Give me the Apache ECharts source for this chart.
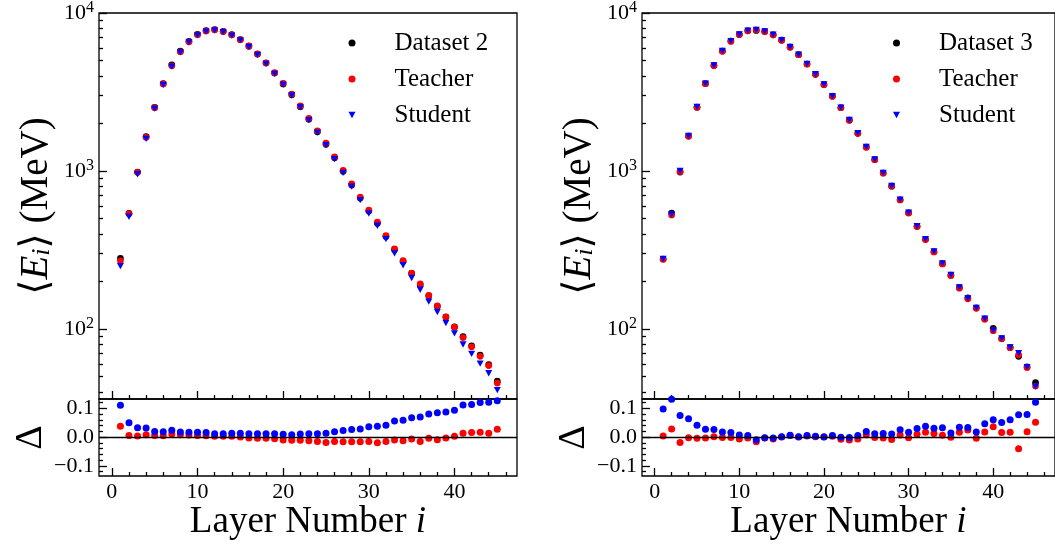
<!DOCTYPE html>
<html><head><meta charset="utf-8">
<script src="https://cdn.jsdelivr.net/npm/echarts@6/dist/echarts.min.js"></script>
<style>html,body{margin:0;padding:0;background:#fff}#c{width:1055px;height:548px}</style>
</head><body><div id="c"></div>
<script>
const layers = [1,2,3,4,5,6,7,8,9,10,11,12,13,14,15,16,17,18,19,20,21,22,23,24,25,26,27,28,29,30,31,32,33,34,35,36,37,38,39,40,41,42,43,44,45];

const dataset2 = [280,539,984,1648,2529,3575,4688,5736,6622,7328,7730,7850,7656,7295,6790,6166,5495,4823,4170,3556,3033,2551,2125,1770,1475,1211,994,816,673,558,467,385,318,268,225,190,162,139,119,103,89.4,78.2,68.2,59.4,46.7];
const teacher2 = [270,536,980,1633,2514,3557,4636,5684,6569,7284,7691,7826,7633,7273,6783,6184,5517,4842,4191,3592,3066,2579,2151,1795,1500,1228,1009,828,683,566,475,390,321,271,226,193,163,140,119.4,102.7,88.2,77.0,67.1,58.6,45.4];
const student2 = [250,513,953,1597,2481,3511,4580,5638,6516,7211,7614,7756,7564,7200,6702,6092,5429,4765,4120,3520,3006,2523,2100,1749,1456,1189,972,795,654,538,450,370,301,253,210,177,149,128,109,93.7,79.7,69.6,60.3,52.4,41.0];
const deltaTeacher2 = [0.038,0.006,0.004,0.009,0.006,0.005,0.011,0.009,0.008,0.006,0.005,0.003,0.003,0.003,0.001,-0.003,-0.004,-0.004,-0.005,-0.010,-0.011,-0.011,-0.012,-0.015,-0.018,-0.015,-0.016,-0.016,-0.016,-0.015,-0.019,-0.015,-0.010,-0.012,-0.006,-0.015,-0.004,-0.009,-0.003,0.003,0.014,0.016,0.017,0.014,0.028];
const deltaStudent2 = [0.111,0.050,0.033,0.032,0.020,0.019,0.024,0.018,0.017,0.017,0.016,0.012,0.012,0.014,0.014,0.012,0.012,0.012,0.012,0.010,0.009,0.011,0.012,0.012,0.014,0.019,0.023,0.027,0.029,0.036,0.038,0.042,0.056,0.059,0.068,0.070,0.081,0.085,0.088,0.094,0.112,0.114,0.121,0.122,0.127];

const dataset3 = [277,541,984,1663,2535,3573,4656,5741,6637,7305,7714,7760,7636,7280,6730,6085,5444,4755,4092,3524,2972,2512,2098,1730,1417,1180,971,801,657,543,446,369,308,259,219,183,157,136,116,101,86.9,76.3,67.1,57.5,45.7];
const teacher3 = [276,527,993,1660,2530,3570,4650,5730,6630,7300,7720,7820,7640,7280,6725,6080,5440,4750,4090,3520,2975,2515,2100,1732,1415,1178,970,803,655,542,445,368,307,258,218,181,155,135,115,97.5,86.5,76.0,68.5,57.0,43.5];
const student3 = [277,530,1002,1665,2540,3575,4660,5745,6640,7310,7725,7830,7650,7290,6740,6090,5450,4760,4095,3530,2980,2515,2102,1735,1420,1182,972,803,658,545,447,370,309,260,220,183,156,136,116,97.5,87,76.5,70.2,57.3,43.2];
const deltaTeacher3 = [0.004,0.029,-0.018,-0.002,-0.004,-0.003,0.002,-0.001,-0.001,-0.006,-0.003,-0.016,-0.003,-0.006,0.001,0.006,0.001,0.004,0.002,0.002,0.003,-0.007,-0.010,-0.006,0.009,-0.001,-0.003,-0.008,0.008,-0.002,0.010,0.017,0.013,0.007,0.000,0.017,0.025,-0.004,0.018,0.036,0.016,0.017,-0.040,0.019,0.052];
const deltaStudent3 = [0.098,0.132,0.076,0.064,0.042,0.028,0.027,0.018,0.016,0.008,0.006,-0.009,-0.002,-0.003,0.002,0.007,0.002,0.006,0.003,0.001,0.006,0.000,-0.001,0.006,0.020,0.012,0.013,0.011,0.026,0.017,0.030,0.038,0.031,0.033,0.015,0.035,0.034,0.018,0.047,0.061,0.051,0.061,0.078,0.079,0.122];

const xMajorTicks = [0,10,20,30,40];
const xMinorTicks = [2,4,6,8,12,14,16,18,22,24,26,28,32,34,36,38,42,44,46];
const yMajorTicks = [100,1000,10000];
const yMinorTicks = [40,50,60,70,80,90,200,300,400,500,600,700,800,900,2000,3000,4000,5000,6000,7000,8000,9000];
const dMajorTicks = [-0.1,0,0.1];
const dMinorTicks = [-0.12,-0.08,-0.06,-0.04,-0.02,0.02,0.04,0.06,0.08,0.12];

const FONT = '"Liberation Serif","DejaVu Serif",serif';
const TRI = 'path://M0,0L10,0L5,9Z';
const zip = (xs, ys) => xs.map((x, i) => [x, ys[i]]);

const panels = [
  {left: 99, width: 418, dataName: 'Dataset 2', data: dataset2, teacher: teacher2, student: student2, dT: deltaTeacher2, dS: deltaStudent2, legendLeft: 343.5},
  {left: 642, width: 417, dataName: 'Dataset 3', data: dataset3, teacher: teacher3, student: student3, dT: deltaTeacher3, dS: deltaStudent3, legendLeft: 888}
];

const grid = [], xAxis = [], yAxis = [], series = [], legend = [];
const tickStyle = {color: '#000', width: 1.3};
const noLine = {show: false, onZero: false};

function xAx(gi, ticks, len, labels, name) {
  return {
    type: 'value', gridIndex: gi, min: -1.5, max: 47.3, position: 'bottom',
    axisLine: noLine, splitLine: {show: false},
    axisTick: {show: true, inside: true, length: len, lineStyle: tickStyle, customValues: ticks},
    axisLabel: {show: labels, customValues: ticks, color: '#000', fontFamily: FONT, fontSize: 22, margin: 5},
    name: name || '', nameLocation: 'middle', nameGap: 24,
    nameTextStyle: {color: '#000', fontFamily: FONT, fontSize: 37,
      rich: {t: {fontFamily: FONT, fontSize: 37, color: '#000'}, i: {fontFamily: FONT, fontSize: 37, fontStyle: 'italic', color: '#000'}}}
  };
}

panels.forEach((p, k) => {
  const gMain = 2 * k, gRatio = 2 * k + 1;
  grid.push({left: p.left, top: 8, width: p.width, height: 391, show: true, borderColor: '#000', borderWidth: 1.3, backgroundColor: 'transparent'});
  grid.push({left: p.left, top: 399, width: p.width, height: 77, show: true, borderColor: '#000', borderWidth: 1.3, backgroundColor: 'transparent'});

  xAxis.push(xAx(gMain, xMajorTicks, 8, false));
  xAxis.push(xAx(gMain, xMinorTicks, 4, false));
  xAxis.push(xAx(gRatio, xMajorTicks, 8, true, '{t|Layer Number }{i|i}'));
  xAxis.push(xAx(gRatio, xMinorTicks, 4, false));

  yAxis.push({
    type: 'log', logBase: 10, gridIndex: gMain, min: 36, max: 10000, position: 'left',
    axisLine: noLine, splitLine: {show: false},
    axisTick: {show: true, inside: true, length: 8, lineStyle: tickStyle, customValues: yMajorTicks},
    axisLabel: {show: true, customValues: yMajorTicks, margin: 5,
      formatter: v => '{b|10}{s|' + Math.round(Math.log10(v)) + '}',
      rich: {b: {fontFamily: FONT, fontSize: 22, color: '#000', lineHeight: 26},
             s: {fontFamily: FONT, fontSize: 16, color: '#000', verticalAlign: 'top', lineHeight: 15}}},
    name: '⟨{e|E}{sub|i}⟩ (MeV)', nameLocation: 'middle', nameRotate: 90, nameGap: 44,
    nameTextStyle: {color: '#000', fontFamily: FONT, fontSize: 39, lineHeight: 36,
      rich: {e: {fontFamily: FONT, fontSize: 39, fontStyle: 'italic', color: '#000', lineHeight: 36},
             sub: {fontFamily: FONT, fontSize: 26, fontStyle: 'italic', color: '#000', verticalAlign: 'bottom', padding: [15, 0, 0, 0]}}}
  });
  yAxis.push({
    type: 'log', logBase: 10, gridIndex: gMain, min: 36, max: 10000, position: 'left',
    axisLine: noLine, splitLine: {show: false},
    axisTick: {show: true, inside: true, length: 4, lineStyle: tickStyle, customValues: yMinorTicks},
    axisLabel: {show: false}
  });
  yAxis.push({
    type: 'value', gridIndex: gRatio, min: -0.135, max: 0.133, position: 'left',
    axisLine: noLine, splitLine: {show: false},
    axisTick: {show: true, inside: true, length: 8, lineStyle: tickStyle, customValues: dMajorTicks},
    axisLabel: {show: true, customValues: dMajorTicks, color: '#000', fontFamily: FONT, fontSize: 22, margin: 5,
      formatter: v => (Math.abs(v) < 1e-9 ? '0.0' : v.toFixed(1).replace('-', '\u2212'))},
    name: 'Δ', nameLocation: 'middle', nameRotate: 90, nameGap: 49,
    nameTextStyle: {color: '#000', fontFamily: FONT, fontSize: 38, lineHeight: 22}
  });
  yAxis.push({
    type: 'value', gridIndex: gRatio, min: -0.135, max: 0.133, position: 'left',
    axisLine: noLine, splitLine: {show: false},
    axisTick: {show: true, inside: true, length: 4, lineStyle: tickStyle, customValues: dMinorTicks},
    axisLabel: {show: false}
  });

  const xm = 4 * k, ym = 4 * k, xr = 4 * k + 2, yr = 4 * k + 2;
  series.push({type: 'scatter', name: p.dataName, xAxisIndex: xm, yAxisIndex: ym, data: zip(layers, p.data),
    symbol: 'circle', symbolSize: 6.7, itemStyle: {color: '#000', opacity: 1}, z: 2});
  series.push({type: 'scatter', name: 'Teacher', xAxisIndex: xm, yAxisIndex: ym, data: zip(layers, p.teacher),
    symbol: 'circle', symbolSize: 6.7, itemStyle: {color: '#ff0000', opacity: 1}, z: 3});
  series.push({type: 'scatter', name: 'Student', xAxisIndex: xm, yAxisIndex: ym, data: zip(layers, p.student),
    symbol: TRI, symbolSize: [7, 6.3], itemStyle: {color: '#0000ff', opacity: 1}, z: 4});
  series.push({type: 'scatter', name: 'Teacher Δ', xAxisIndex: xr, yAxisIndex: yr, data: zip(layers, p.dT),
    symbol: 'circle', symbolSize: 7, itemStyle: {color: '#ff0000', opacity: 1}, z: 3,
    markLine: {silent: true, symbol: 'none', label: {show: false}, lineStyle: {color: '#000', width: 1.3, type: 'solid'},
      data: [{yAxis: 0}], animation: false}});
  series.push({type: 'scatter', name: 'Student Δ', xAxisIndex: xr, yAxisIndex: yr, data: zip(layers, p.dS),
    symbol: 'circle', symbolSize: 7, itemStyle: {color: '#0000ff', opacity: 1}, z: 4});

  legend.push({
    left: p.legendLeft, top: 23, orient: 'vertical', itemWidth: 7, itemHeight: 7, itemGap: 6,
    selectedMode: false,
    textStyle: {color: '#000', fontFamily: FONT, fontSize: 25, lineHeight: 30, padding: [0, 0, 0, 34]},
    data: [{name: p.dataName, icon: 'circle'}, {name: 'Teacher', icon: 'circle'}, {name: 'Student', icon: TRI}]
  });
});

const chart = echarts.init(document.getElementById('c'), null, {renderer: 'canvas'});
chart.setOption({animation: false, backgroundColor: '#fff', grid, xAxis, yAxis, series, legend});
</script>
</body></html>
